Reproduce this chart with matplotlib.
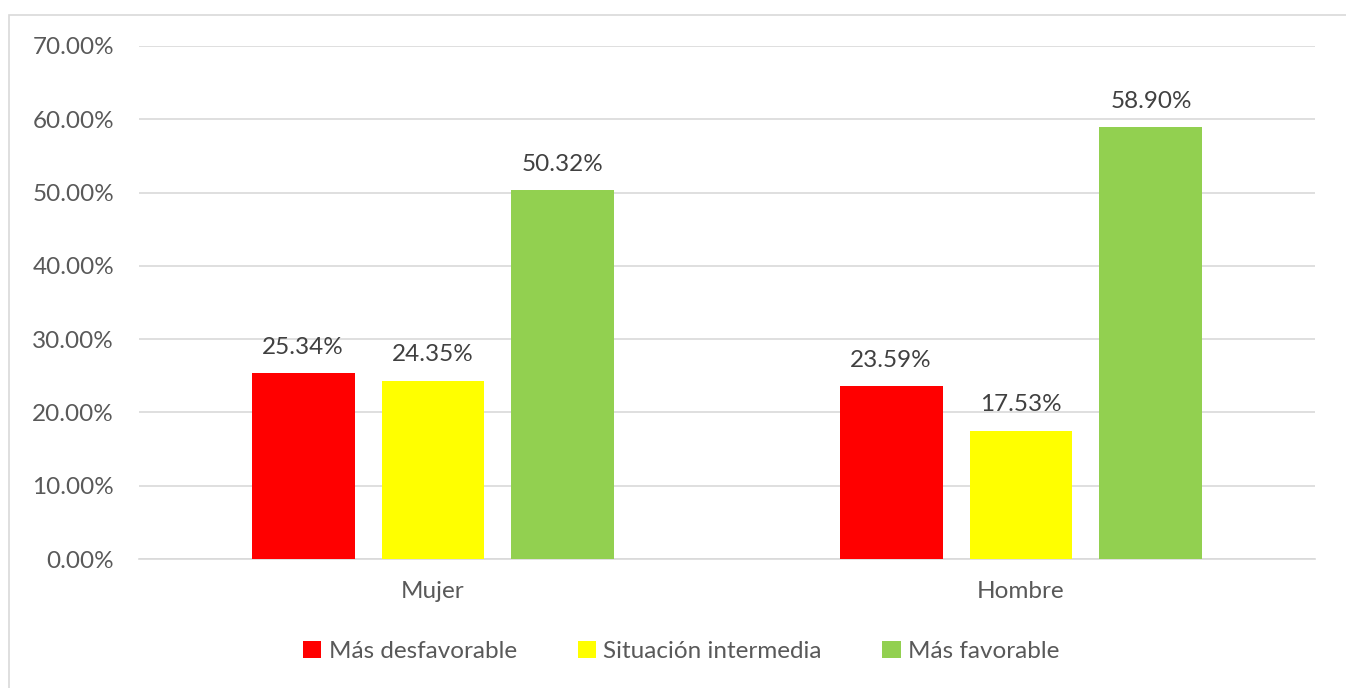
import numpy as np
import matplotlib
matplotlib.use('Agg')
import matplotlib.pyplot as plt
from matplotlib.patches import Rectangle

# datos
categorias = ['Mujer', 'Hombre']
mas_desfavorable = [25.34, 23.59]
situacion_intermedia = [24.35, 17.53]
mas_favorable = [50.32, 58.90]
series = ['Más desfavorable', 'Situación intermedia', 'Más favorable']
colores = ['#FF0000', '#FFFF00', '#92D050']

plt.rcParams['font.family'] = ['Lato', 'DejaVu Sans']
gris_texto = '#595959'
tam = 17.5

fig = plt.figure(figsize=(13.46, 6.88), dpi=100)
ax = fig.add_axes([139 / 1346, 1 - 559 / 688, 1176 / 1346, 513 / 688])

# borde del grafico
fig.patches.append(Rectangle((8.5 / 1346, -0.05), 1.2, 1 - 15.5 / 688 + 0.05,
                             transform=fig.transFigure, fill=False,
                             edgecolor='#D9D9D9', linewidth=1.2))

x = np.arange(len(categorias))
ancho = 0.175
paso = 0.221
valores = [mas_desfavorable, situacion_intermedia, mas_favorable]
for i, (vals, nombre, col) in enumerate(zip(valores, series, colores)):
    pos = x + (i - 1) * paso
    barras = ax.bar(pos, vals, ancho, color=col, label=nombre, zorder=3)
    for b, v in zip(barras, vals):
        ax.annotate(f'{v:.2f}%', (b.get_x() + b.get_width() / 2, v),
                    xytext=(0, 11), textcoords='offset points',
                    ha='center', va='bottom', fontsize=tam, color='#404040')

ax.set_xlim(-0.5, 1.5)
ax.set_ylim(0, 70)
ax.set_yticks(np.arange(0, 71, 10))
ax.set_yticklabels([f'{t:.2f}%' for t in np.arange(0, 71, 10)])
ax.set_xticks(x)
ax.set_xticklabels(categorias)
ax.tick_params(axis='both', length=0, labelsize=tam, labelcolor=gris_texto)
ax.tick_params(axis='y', pad=18)
ax.tick_params(axis='x', pad=16)
ax.yaxis.grid(True, color='#D9D9D9', linewidth=1.2, zorder=0)
for s in ['top', 'right', 'left']:
    ax.spines[s].set_visible(False)
ax.spines['bottom'].set_color('#D9D9D9')
ax.spines['bottom'].set_linewidth(1.2)

leg = ax.legend(loc='center', bbox_to_anchor=(0.461, -0.18), ncol=3,
                frameon=False, fontsize=tam, handlelength=0.75, handleheight=0.75,
                handletextpad=0.3, columnspacing=2.5)
for t in leg.get_texts():
    t.set_color(gris_texto)

fig.savefig('out.png', dpi=100)
